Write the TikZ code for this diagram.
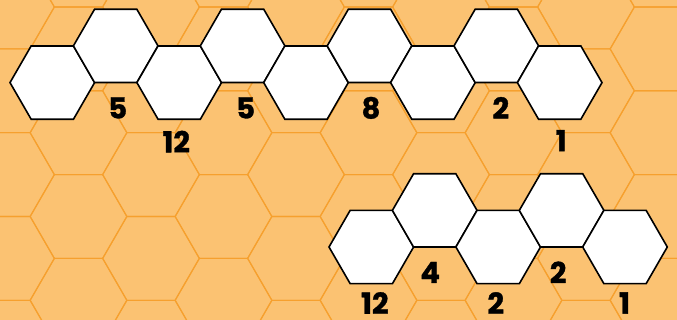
\documentclass[tikz,border=0pt]{standalone}
\usepackage{fontspec}
\setmainfont{Poppins}[BoldFeatures={FakeBold=1.2}]
\usetikzlibrary{shapes.geometric,calc}
\definecolor{bgc}{HTML}{FBC272}
\definecolor{gridc}{HTML}{F6A02E}
\begin{document}
\begin{tikzpicture}[x=1pt,y=-1pt,
  hexcell/.style={regular polygon, regular polygon sides=6, minimum size=84.6pt,
    inner sep=0pt, outer sep=0pt, draw=black, line width=1.6pt, fill=white, line join=miter},
  gridhex/.style={draw=gridc, line width=1.1pt},
  lab/.style={font=\fontsize{29}{29}\selectfont\bfseries, inner sep=0pt, text=black}]
\useasboundingbox (0,0) rectangle (677,320);
\fill[bgc] (0,0) rectangle (677,320);
% background honeycomb
\begin{scope}
\clip (0,0) rectangle (677,320);
\foreach \j in {0,2,...,10}{
  \foreach \k in {-1,...,4}{
    \pgfmathsetmacro{\cx}{6+72.5*\j}
    \pgfmathsetmacro{\cy}{7+83.8*\k}
    \draw[gridhex] ({\cx+48.4},{\cy}) -- ({\cx+24.2},{\cy+41.9}) -- ({\cx-24.2},{\cy+41.9})
      -- ({\cx-48.4},{\cy}) -- ({\cx-24.2},{\cy-41.9}) -- ({\cx+24.2},{\cy-41.9}) -- cycle;
  }
}
\foreach \j in {-1,1,...,9}{
  \foreach \k in {-1,...,4}{
    \pgfmathsetmacro{\cx}{6+72.5*\j}
    \pgfmathsetmacro{\cy}{48.9+83.8*\k}
    \draw[gridhex] ({\cx+48.4},{\cy}) -- ({\cx+24.2},{\cy+41.9}) -- ({\cx-24.2},{\cy+41.9})
      -- ({\cx-48.4},{\cy}) -- ({\cx-24.2},{\cy-41.9}) -- ({\cx+24.2},{\cy-41.9}) -- cycle;
  }
}
\end{scope}
% top chain
\node[hexcell] (t0) at (52.3,82.6) {};
\node[hexcell] (t1) at (115.7,45.9) {};
\node[hexcell] (t2) at (179.2,82.6) {};
\node[hexcell] (t3) at (242.6,45.9) {};
\node[hexcell] (t4) at (306.0,82.6) {};
\node[hexcell] (t5) at (369.5,45.9) {};
\node[hexcell] (t6) at (432.9,82.6) {};
\node[hexcell] (t7) at (496.3,45.9) {};
\node[hexcell] (t8) at (559.7,82.6) {};
% bottom chain
\node[hexcell] (b0) at (371.3,247.0) {};
\node[hexcell] (b1) at (434.7,210.4) {};
\node[hexcell] (b2) at (498.2,247.0) {};
\node[hexcell] (b3) at (561.6,210.4) {};
\node[hexcell] (b4) at (625.0,247.0) {};
% labels
\node[lab] (lt1) at ($(t1)+(2,62)$) {5};
\node[lab] (lt2) at ($(t2)+(-3,59)$) {12};
\node[lab] (lt3) at ($(t3)+(3,62)$) {5};
\node[lab] (lt5) at ($(t5)+(1.5,62)$) {8};
\node[lab] (lt7) at ($(t7)+(4.5,62)$) {2};
\node[lab] (lt8) at ($(t8)+(1.5,58)$) {1};
\node[lab] (lb0) at ($(b0)+(3.5,56)$) {12};
\node[lab] (lb1) at ($(b1)+(-4.5,62)$) {4};
\node[lab] (lb2) at ($(b2)+(-2.5,56)$) {2};
\node[lab] (lb3) at ($(b3)+(-3.5,62)$) {2};
\node[lab] (lb4) at ($(b4)+(-0.5,56)$) {1};
\end{tikzpicture}
\end{document}
